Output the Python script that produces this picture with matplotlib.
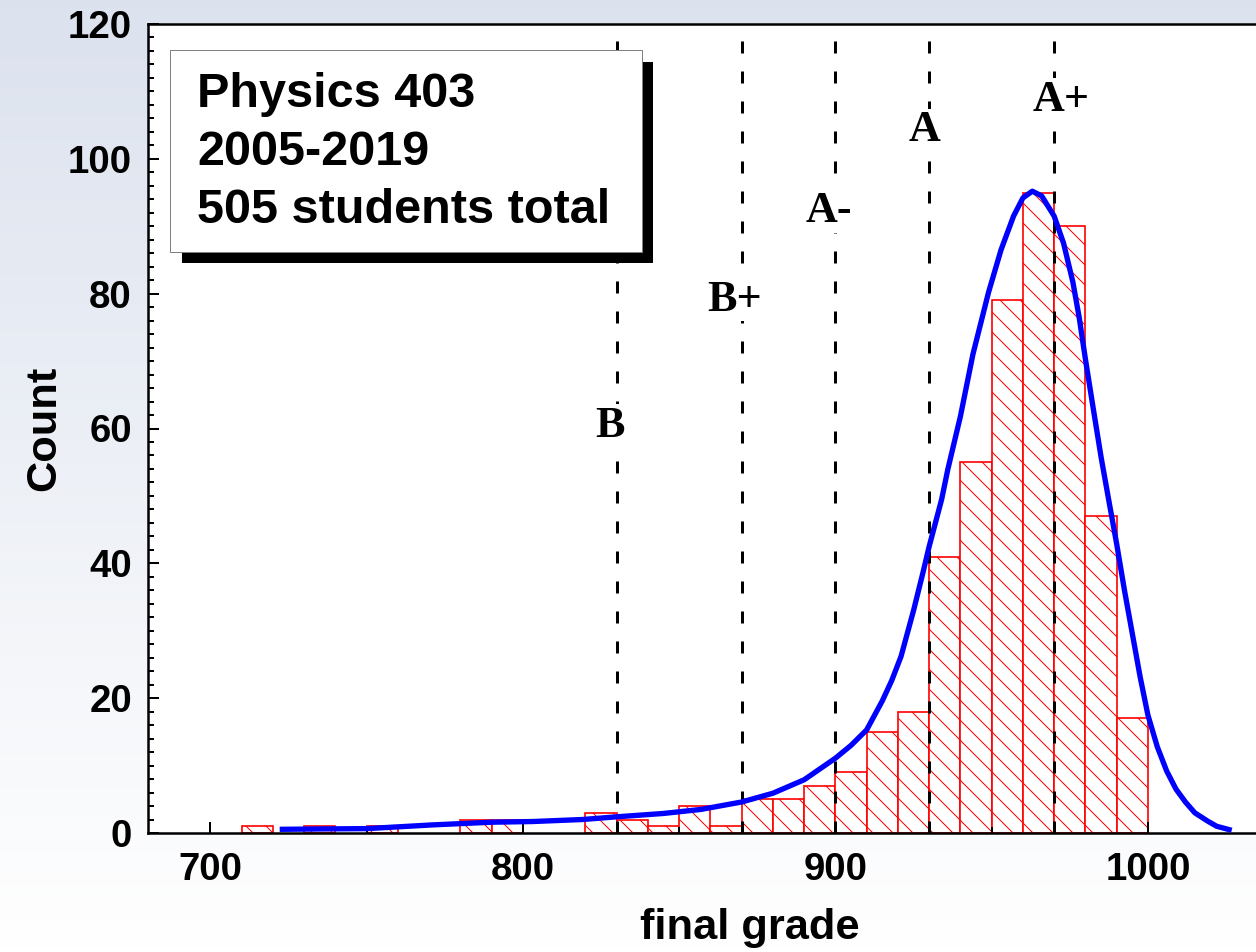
import numpy as np
import matplotlib
matplotlib.use("Agg")
import matplotlib.pyplot as plt
from matplotlib.patches import Rectangle
from matplotlib.ticker import MultipleLocator

# histogram: left edge of each 10-point bin (empty bins left out) and counts
bin_left = [710, 730, 750, 780, 790, 820, 830, 840, 850, 860, 870, 880, 890,
            900, 910, 920, 930, 940, 950, 960, 970, 980, 990]
counts = [1, 1, 1, 2, 2, 3, 2, 1, 4, 1, 5, 5, 7,
          9, 15, 18, 41, 55, 79, 95, 90, 47, 17]

# fitted curve
fit_x = [723, 735, 750, 771, 790, 803, 819, 830, 845, 857, 870, 880, 890, 900,
         905, 910, 915, 918, 921, 925, 928, 930, 934, 936, 940, 944, 949, 953,
         957, 960, 963, 966, 970, 973, 976, 978, 980, 982.5, 985, 987.5, 990,
         992.5, 995, 997.5, 1000, 1003, 1006, 1009, 1012, 1015, 1019, 1022, 1026]
fit_y = [0.55, 0.6, 0.65, 1.2, 1.6, 1.7, 2.0, 2.4, 2.9, 3.5, 4.6, 5.9, 7.9, 11.1,
         13.0, 15.3, 19.6, 22.6, 26.2, 33.0, 38.6, 42.5, 49.5, 54.0, 61.8, 71.0, 80.2, 86.5,
         91.5, 94.2, 95.2, 94.5, 91.5, 87.5, 81.7, 76.5, 70.3, 63.0, 55.8, 49.3, 42.9,
         36.0, 29.6, 23.2, 17.5, 12.8, 9.2, 6.5, 4.6, 3.0, 1.8, 1.0, 0.5]

# grade cutoffs
cutoffs = [830, 870, 900, 930, 970]
letters = ["B", "B+", "A-", "A", "A+"]

info_lines = ["Physics 403", "2005-2019", "505 students total"]

plt.rcParams["font.family"] = ["Liberation Sans", "DejaVu Sans"]
plt.rcParams["font.weight"] = "bold"
plt.rcParams["hatch.linewidth"] = 0.6

DPI = 120
fig = plt.figure(figsize=(1256 / DPI, 952 / DPI), dpi=DPI)

# soft blue-grey gradient behind everything
bg = fig.add_axes([0, 0, 1, 1], zorder=-10)
top = np.array([0.862, 0.886, 0.933])
t = np.linspace(0, 1, 256)[:, None]
grad = top[None, :] * (1 - t) + np.ones(3)[None, :] * t
bg.imshow(grad[:, None, :], aspect="auto", extent=[0, 1, 0, 1])
bg.axis("off")

ax = fig.add_axes([148 / 1256, 119 / 952, 1203 / 1256, 809 / 952])
ax.set_facecolor("white")

ax.bar(bin_left, counts, width=10, align="edge", facecolor="white",
       edgecolor="red", hatch="\\\\", linewidth=1.0, zorder=1)

for c in cutoffs:
    ax.axvline(c, color="black", lw=1.8, linestyle=(0, (4, 6)), zorder=2)

label_pos = [(828.0, 58.8), (867.6, 77.5), (897.8, 90.6), (928.5, 102.6), (972.3, 107.1)]
for (lx, ly), s in zip(label_pos, letters):
    ax.text(lx, ly, s, ha="center", va="baseline", fontsize=26.5,
            family=["Liberation Serif", "DejaVu Serif"], fontweight="bold", zorder=3,
            bbox=dict(facecolor="white", edgecolor="none", pad=1))

ax.plot(fit_x, fit_y, color="blue", lw=3.2, zorder=4, solid_joinstyle="round")

ax.set_xlim(680, 1065)
ax.set_ylim(0, 120)
ax.xaxis.set_major_locator(MultipleLocator(100))
ax.xaxis.set_minor_locator(MultipleLocator(50))
ax.yaxis.set_major_locator(MultipleLocator(20))
ax.yaxis.set_minor_locator(MultipleLocator(2))
ax.tick_params(which="both", direction="in", top=False, right=False, width=1.2)
ax.tick_params(which="major", length=6.6, labelsize=23)
ax.tick_params(which="minor", length=3.6)
ax.tick_params(axis="y", pad=9.6)
ax.tick_params(axis="x", pad=11.4)
for sp in ax.spines.values():
    sp.set_linewidth(1.5)

ax.set_xlabel("final grade", fontsize=26, fontweight="bold")
ax.set_ylabel("Count", fontsize=26, fontweight="bold")
ax.xaxis.set_label_coords(0.5, -0.093)
ax.yaxis.set_label_coords(-0.070, 0.5)

# info box with drop shadow
fig.add_artist(Rectangle((182 / 1256, 689 / 952), 471 / 1256, 201 / 952,
                         transform=fig.transFigure, facecolor="black",
                         edgecolor="none", zorder=5))
fig.add_artist(Rectangle((170 / 1256, 700 / 952), 472 / 1256, 202 / 952,
                         transform=fig.transFigure, facecolor="white",
                         edgecolor="#808080", lw=0.6, zorder=6))
for i, line in enumerate(info_lines):
    fig.text(197 / 1256, (952 - 107 - 58 * i) / 952, line, fontsize=29.2,
             fontweight="bold", va="baseline", ha="left", zorder=7)

fig.savefig("out.png", dpi=DPI)
